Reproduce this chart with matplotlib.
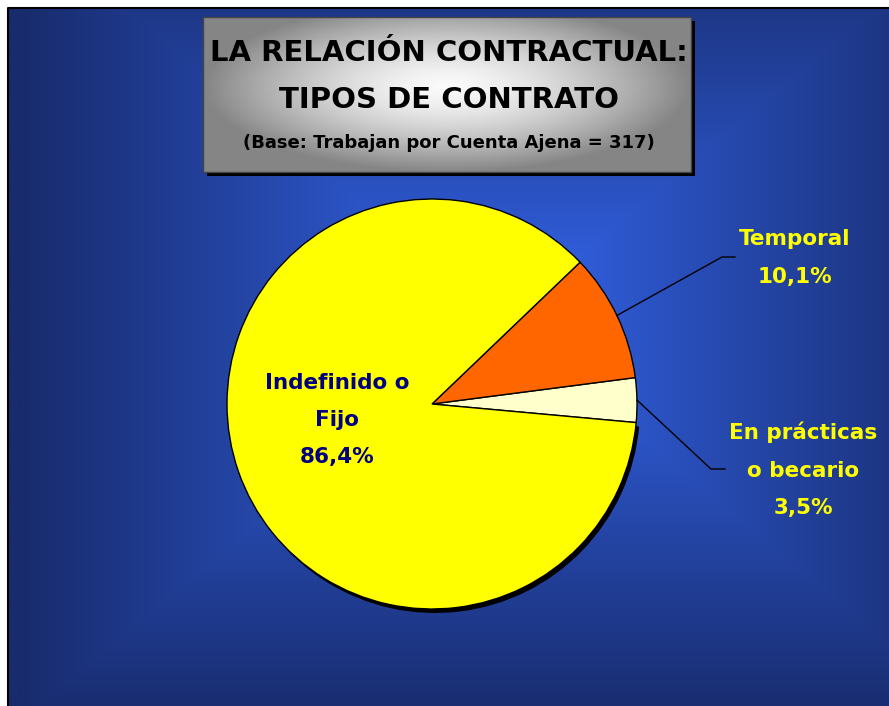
import numpy as np
import matplotlib.pyplot as plt
from matplotlib.patches import Rectangle, Wedge

W, H = 889, 706

title_lines = ["LA RELACIÓN CONTRACTUAL:", "TIPOS DE CONTRATO"]
subtitle = "(Base: Trabajan por Cuenta Ajena = 317)"
categories = ["En prácticas\no becario", "Temporal", "Indefinido o\nFijo"]
shares = [3.5, 10.1, 86.4]
share_text = ["3,5%", "10,1%", "86,4%"]
slice_colors = ["#ffffcc", "#ff6600", "#ffff00"]
label_colors = ["#ffff00", "#ffff00", "#000080"]

plt.rcParams["font.family"] = ["DejaVu Sans"]
plt.rcParams["font.weight"] = "bold"

fig = plt.figure(figsize=(W / 100, H / 100), dpi=100, facecolor="white")
ax = fig.add_axes([0, 0, 1, 1])


def iy(y):
    # image row -> data y
    return H - y


# blue background, rectangular gradient
xi = 8 + np.arange(W - 8)
yi = 8 + np.arange(H - 8)
X, Y = np.meshgrid(xi, yi)
t = np.maximum(np.abs(X - 500) / 480, np.abs(Y - 320) / 400)
t = np.clip(t, 0, 1) ** 0.9
c0 = np.array([0x35, 0x68, 0xf2]) / 255
c1 = np.array([0x18, 0x2b, 0x6c]) / 255
bg = c0 + (c1 - c0) * t[..., None]
ax.imshow(bg, extent=[8, W + 1, -1, H - 8], origin="upper", zorder=0, interpolation="bilinear")
ax.plot([7.5, 7.5, W + 2], [-2, iy(7.5), iy(7.5)], color="black", lw=1.5, zorder=0.5)

# pie
cx, cy, r = 432, iy(404), 205
wedges, _ = ax.pie(shares, colors=slice_colors, startangle=-5.2, counterclock=True,
                   center=(cx, cy), radius=r, frame=True,
                   wedgeprops=dict(edgecolor="black", linewidth=1))
yw = wedges[2]
ax.add_patch(Wedge((yw.center[0] + 3, yw.center[1] - 4), yw.r, yw.theta1, yw.theta2,
                   facecolor="black", edgecolor="none", zorder=0.9))

# labels
label_pos = [(803, 470), (795, 258), (337, 420)]
elbows = [((711, 469), (725, 469)), ((722, 257), (735, 257))]
for i, (cat, txt) in enumerate(zip(categories, share_text)):
    px, py = label_pos[i]
    ax.text(px, iy(py), cat + "\n" + txt, ha="center", va="center", fontsize=15.5,
            color=label_colors[i], linespacing=2.08, zorder=5)
for w, (e1, e2) in zip(wedges[:2], elbows):
    a = np.deg2rad((w.theta1 + w.theta2) / 2)
    ex, ey = cx + r * np.cos(a), cy + r * np.sin(a)
    ax.plot([ex, e1[0], e2[0]], [ey, iy(e1[1]), iy(e2[1])], color="black", lw=1, zorder=4)

# title box
bx0, bx1, by0, by1 = 203, 691, 17, 172
ax.add_patch(Rectangle((bx0 + 4, iy(by1 + 4)), bx1 - bx0, by1 - by0, facecolor="black",
                       edgecolor="none", zorder=6))
gx = np.linspace(-1, 1, 200)
gy = np.linspace(-1, 1, 80)
GX, GY = np.meshgrid(gx, gy)
gt = np.clip(np.sqrt(GX ** 2 + ((GY + 0.1) * 0.9) ** 2), 0, 1) ** 1.5
gray = 0.98 + (0.52 - 0.98) * gt
ax.imshow(gray, cmap="gray", vmin=0, vmax=1, extent=[bx0, bx1, iy(by1), iy(by0)],
          origin="upper", zorder=7, interpolation="bilinear")
ax.add_patch(Rectangle((bx0, iy(by1)), bx1 - bx0, by1 - by0, facecolor="none",
                       edgecolor="#444444", lw=1, zorder=8))
ax.text(449, iy(53), title_lines[0], ha="center", va="center", fontsize=21, color="black", zorder=9)
ax.text(449, iy(100), title_lines[1], ha="center", va="center", fontsize=21, color="black", zorder=9)
ax.text(449, iy(143), subtitle, ha="center", va="center", fontsize=13, color="black", zorder=9)

ax.set_xlim(0, W)
ax.set_ylim(0, H)
ax.set_aspect("auto")
ax.set_frame_on(False)
ax.axis("off")

fig.savefig("out.png", dpi=100, facecolor="white")
